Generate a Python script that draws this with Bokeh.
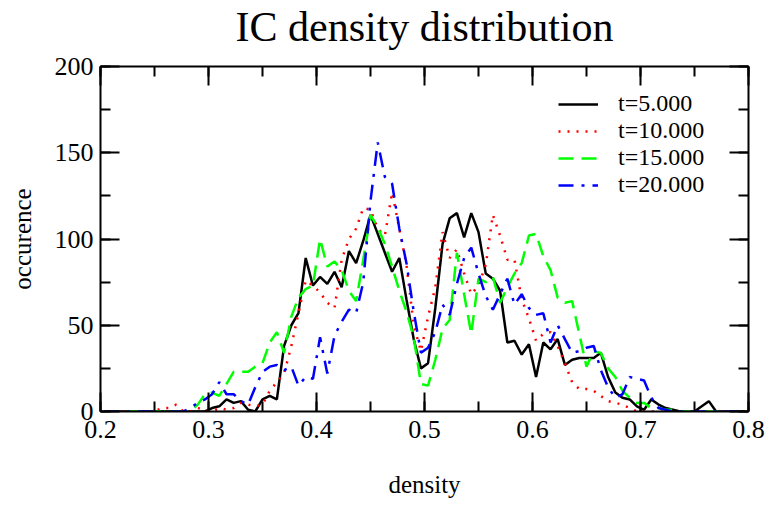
from bokeh.plotting import figure
from bokeh.models import (LinearAxis, SingleIntervalTicker, PrintfTickFormatter,
                          Legend, LegendItem)
from bokeh.embed import file_html
from bokeh.resources import INLINE

# ---- data (bin centres of the density histogram) ----
density = [
    0.2033, 0.2100, 0.2167, 0.2233, 0.2300, 0.2367, 0.2433, 0.2500, 0.2567, 0.2633,
    0.2700, 0.2767, 0.2833, 0.2900, 0.2967, 0.3033, 0.3100, 0.3167, 0.3233, 0.3300,
    0.3367, 0.3433, 0.3500, 0.3567, 0.3633, 0.3700, 0.3767, 0.3833, 0.3900, 0.3967,
    0.4033, 0.4100, 0.4167, 0.4233, 0.4300, 0.4367, 0.4433, 0.4500, 0.4567, 0.4633,
    0.4700, 0.4767, 0.4833, 0.4900, 0.4967, 0.5033, 0.5100, 0.5167, 0.5233, 0.5300,
    0.5367, 0.5433, 0.5500, 0.5567, 0.5633, 0.5700, 0.5767, 0.5833, 0.5900, 0.5967,
    0.6033, 0.6100, 0.6167, 0.6233, 0.6300, 0.6367, 0.6433, 0.6500, 0.6567, 0.6633,
    0.6700, 0.6767, 0.6833, 0.6900, 0.6967, 0.7033, 0.7100, 0.7167, 0.7233, 0.7300,
    0.7367, 0.7433, 0.7500, 0.7567, 0.7633, 0.7700, 0.7767, 0.7833, 0.7900, 0.7967,
]

occ_t5 = [
    0, 0, 0, 0, 0, 0, 0, 0, 0, 0,
    0, 0, 0, 0, 0, 2, 3, 7, 5, 6,
    1, 0, 7, 9, 7, 38, 50, 57, 89, 73,
    78, 74, 81, 72, 93, 86, 99, 114, 103, 92,
    81, 89, 65, 42, 25, 28, 60, 97, 112, 115,
    101, 115, 104, 80, 77, 70, 40, 41, 33, 39,
    20, 40, 36, 42, 27, 30, 31, 31, 31, 34,
    20, 11, 8, 7, 3, 1, 7, 4, 2, 1,
    0, 0, 0, 3, 6, 0, 0, 0, 0, 0,
]

occ_t10 = [
    0, 0, 0, 0, 0, 0, 0, 0, 2, 2,
    4, 0, 0, 2, 1, 0, 2, 1, 2, 5,
    4, 3, 4, 12, 17, 22, 38, 57, 76, 73,
    69, 63, 60, 88, 100, 106, 118, 117, 106, 102,
    127, 106, 85, 50, 35, 55, 72, 104, 89, 94,
    80, 68, 73, 85, 114, 102, 88, 88, 65, 54,
    41, 45, 46, 38, 28, 17, 13, 13, 12, 9,
    6, 5, 4, 2, 0, 0, 0, 0, 0, 0,
    0, 0, 0, 0, 0, 0, 0, 0, 0, 0,
]

occ_t15 = [
    0, 0, 0, 0, 0, 0, 0, 0, 0, 0,
    0, 0, 0, 4, 10, 11, 9, 16, 23, 23,
    23, 26, 28, 40, 46, 34, 55, 66, 71, 73,
    100, 84, 87, 82, 70, 64, 88, 114, 107, 97,
    84, 70, 58, 43, 16, 15, 30, 48, 53, 92,
    68, 45, 77, 75, 78, 63, 72, 80, 86, 102,
    103, 90, 82, 66, 63, 64, 45, 26, 35, 34,
    25, 20, 12, 8, 5, 5, 2, 2, 1, 1,
    0, 0, 0, 0, 0, 0, 0, 0, 0, 0,
]

occ_t20 = [
    0, 0, 0, 0, 0, 0, 0, 0, 0, 0,
    0, 0, 2, 5, 7, 10, 17, 10, 10, 6,
    4, 14, 23, 26, 27, 24, 26, 15, 20, 19,
    43, 22, 44, 52, 59, 57, 75, 122, 156, 136,
    132, 106, 86, 58, 34, 37, 46, 62, 56, 74,
    89, 95, 80, 67, 59, 68, 77, 62, 68, 60,
    56, 57, 40, 50, 42, 34, 35, 37, 38, 24,
    14, 8, 10, 20, 19, 18, 8, 2, 1, 0,
    0, 0, 0, 0, 0, 0, 0, 0, 0, 0,
]

series_labels = ["t=5.000", "t=10.000", "t=15.000", "t=20.000"]
title_text = "IC density distribution"

FONT = "Liberation Serif"

p = figure(width=766, height=505, x_range=(0.2, 0.8), y_range=(0, 200),
           output_backend="svg", toolbar_location=None, title=None,
           min_border_left=100, min_border_right=18,
           min_border_top=66, min_border_bottom=94)

p.xgrid.visible = False
p.ygrid.visible = False
p.outline_line_color = None


def style_axis(ax, interval, show_labels):
    ax.ticker = SingleIntervalTicker(interval=interval, num_minor_ticks=2)
    ax.major_tick_in = 19
    ax.major_tick_out = 0
    ax.minor_tick_in = 10
    ax.minor_tick_out = 0
    ax.axis_line_width = 2
    ax.major_tick_line_width = 2
    ax.minor_tick_line_width = 2
    ax.axis_line_color = "black"
    ax.major_tick_line_color = "black"
    ax.minor_tick_line_color = "black"
    ax.major_label_text_font = FONT
    if show_labels:
        ax.major_label_text_color = "black"
        ax.major_label_text_font_size = "26px"
        ax.major_label_standoff = 9
    else:
        ax.major_label_text_color = None
        ax.major_label_text_font_size = "1px"
        ax.major_label_standoff = 0
    ax.axis_label_text_font = FONT
    ax.axis_label_text_font_size = "25px"
    ax.axis_label_text_font_style = "normal"
    ax.axis_label_text_color = "black"


xa = p.xaxis[0]
ya = p.yaxis[0]
style_axis(xa, 0.1, True)
style_axis(ya, 50, True)
xa.formatter = PrintfTickFormatter(format="%.1f")
ya.formatter = PrintfTickFormatter(format="%d")
ya.major_label_standoff = 7
xa.axis_label = "density"
ya.axis_label = "occurence"
xa.axis_label_standoff = 30
ya.axis_label_standoff = 16

# top axis (ticks only); it carries the chart title as its label
top = LinearAxis()
style_axis(top, 0.1, False)
top.axis_label = title_text
top.axis_label_text_font_size = "42px"
top.axis_label_standoff = 17
p.add_layout(top, "above")
right = LinearAxis()
style_axis(right, 50, False)
p.add_layout(right, "right")

lw = 2.5
r5 = p.line(density, occ_t5, color="#000000", line_width=lw)
r10 = p.line(density, occ_t10, color="#ff0000", line_width=lw, line_dash="2 7")
r15 = p.line(density, occ_t15, color="#00ff00", line_width=lw, line_dash="15 8")
r20 = p.line(density, occ_t20, color="#0000ff", line_width=lw, line_dash="15 8 3 8")

row_centres = [307, 280, 253, 226]   # from the frame bottom
for rend, lab, yc in zip([r5, r10, r15, r20], series_labels, row_centres):
    lg = Legend(items=[LegendItem(label=lab, renderers=[rend])],
                location=(458, yc - 13))
    lg.glyph_width = 40
    lg.glyph_height = 26
    lg.label_height = 26
    lg.label_standoff = 20
    lg.spacing = 0
    lg.padding = 0
    lg.margin = 0
    lg.border_line_color = None
    lg.background_fill_alpha = 0
    lg.label_text_font = FONT
    lg.label_text_font_size = "24px"
    lg.label_text_color = "black"
    p.add_layout(lg)

open("out.html", "w").write(file_html(p, INLINE))
